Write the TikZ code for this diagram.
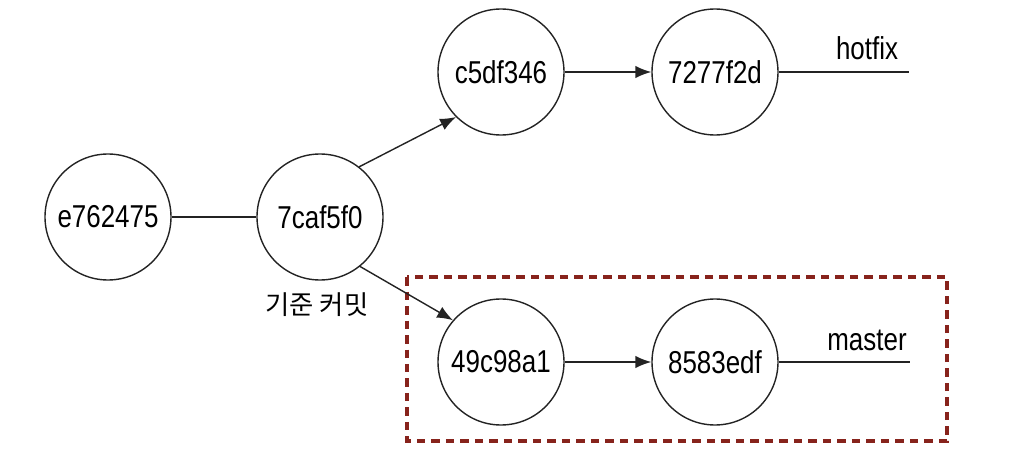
\documentclass[tikz,border=0pt]{standalone}
\usepackage{fontspec}
\setmainfont{Liberation Sans}[FakeStretch=0.82]
\newfontfamily\kofont{Noto Sans CJK KR}
\usepackage{xcolor}
\usepackage{tikz}
\usetikzlibrary{arrows.meta}

\definecolor{linegray}{RGB}{35,35,35}
\definecolor{boxred}{RGB}{135,35,28}

\begin{document}
\begin{tikzpicture}[
        commit/.style={draw=linegray, line width=0.8pt, circle, minimum size=2.52cm,
            inner sep=0pt, font=\fontsize{18pt}{20pt}\selectfont},
        branch/.style={font=\fontsize{18pt}{20pt}\selectfont},
        link/.style={draw=linegray, line width=0.8pt},
        next/.style={link, -{Latex[length=9pt,width=7pt]}}
    ]
        \useasboundingbox (0,0) rectangle (20.2,9.46);

        \node[commit] (c1) at (2.16, 5.12) {e762475};
        \node[commit] (c2) at (6.40, 5.12) {7caf5f0};
        \node[commit] (c3) at (10.02, 8.02) {c5df346};
        \node[commit] (c4) at (14.30, 8.02) {7277f2d};
        \node[commit] (c5) at (10.02, 2.22) {49c98a1};
        \node[commit] (c6) at (14.30, 2.22) {8583edf};
        \coordinate (h1) at (18.18, 8.02);
        \coordinate (m1) at (18.20, 2.22);

        \node[branch] (hotfix) at (17.34, 8.50) {hotfix};
        \node[branch] (master) at (17.34, 2.66) {master};
        \node[font=\kofont\fontsize{15pt}{17pt}\selectfont] (base) at (6.34, 3.36) {기준 커밋};

        % branch of master
        \draw[boxred, line width=2.2pt, dash pattern=on 0.17cm off 0.12cm]
            (8.14, 3.92) rectangle (18.94, 0.64);

        \draw[link] (c1) -- (c2);
        \draw[next] (c2.52) -- (c3.225);
        \draw[next] (c2.-51) -- (c5.139);
        \foreach \a/\b in {3/4, 5/6} {
            \draw[next] (c\a) -- (c\b);
        }
        \draw[link] (c4) -- (h1);
        \draw[link] (c6) -- (m1);
    \end{tikzpicture}
\end{document}
